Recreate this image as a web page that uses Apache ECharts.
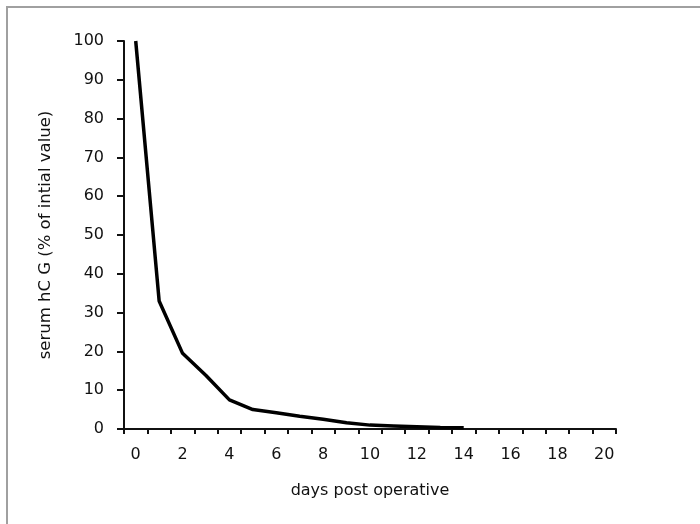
<!DOCTYPE html>
<html>
<head>
<meta charset="utf-8">
<script src="https://cdn.jsdelivr.net/npm/echarts@6/dist/echarts.min.js"></script>
<style>
  html, body { margin: 0; padding: 0; background: #fff; }
  #wrap { position: relative; width: 700px; height: 524px; }
  .frame { position: absolute; left: 6px; top: 6px; width: 700px; height: 524px;
    border-top: 2px solid #a0a0a0; border-left: 2px solid #a0a0a0; }
  #main { position: absolute; left: 0; top: 0; width: 700px; height: 524px; }
</style>
</head>
<body>
<div id="wrap">
  <div class="frame"></div>
  <div id="main"></div>
</div>
<script>
// days 0..20 on the category axis
const days = ['0', '1', '2', '3', '4', '5', '6', '7', '8', '9', '10',
  '11', '12', '13', '14', '15', '16', '17', '18', '19', '20']
// serum hCG, % of initial value (ends at day 14)
const hcg = [100, 33, 19.5, 13.8, 7.5, 5, 4.2, 3.3, 2.5, 1.6, 1.0, 0.8, 0.6, 0.4, 0.3]

const axisFont = '"DejaVu Sans", Arial, sans-serif'

const chart = echarts.init(document.getElementById('main'))
chart.setOption({
  animation: false,
  grid: { left: 124, right: 84, top: 41, bottom: 95 },
  xAxis: {
    type: 'category',
    data: days,
    boundaryGap: true,
    name: 'days post operative',
    nameLocation: 'middle',
    nameGap: 54,
    nameTextStyle: { color: '#111', fontSize: 16, fontFamily: axisFont },
    axisLine: { lineStyle: { color: '#111', width: 2 } },
    axisTick: { show: true, interval: 0, length: 5, lineStyle: { color: '#111', width: 2 } },
    axisLabel: { interval: 1, margin: 18, color: '#111', fontSize: 16, fontFamily: axisFont },
    splitLine: { show: false }
  },
  yAxis: {
    type: 'value',
    min: 0,
    max: 100,
    interval: 10,
    name: 'serum hC G (% of intial value)',
    nameLocation: 'middle',
    nameGap: 70,
    nameTextStyle: { color: '#111', fontSize: 16.5, fontFamily: axisFont },
    axisLine: { show: true, lineStyle: { color: '#111', width: 2 } },
    axisTick: { show: true, length: 7, lineStyle: { color: '#111', width: 2 } },
    axisLabel: { margin: 20, color: '#111', fontSize: 16, fontFamily: axisFont },
    splitLine: { show: false }
  },
  series: [{
    type: 'line',
    data: hcg,
    symbol: 'none',
    lineStyle: { color: '#000', width: 3.5 }
  }]
})
</script>
</body>
</html>
